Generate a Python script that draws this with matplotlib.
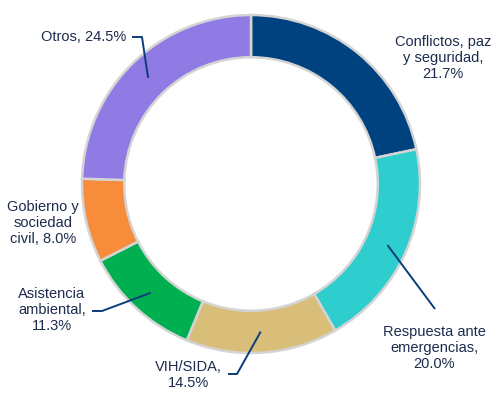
import numpy as np
import matplotlib.pyplot as plt

plt.rcParams['font.family'] = ['Liberation Sans', 'DejaVu Sans']

categories = ["Conflictos, paz\ny seguridad", "Respuesta ante\nemergencias", "VIH/SIDA",
              "Asistencia\nambiental", "Gobierno y\nsociedad\ncivil", "Otros"]
values = [21.7, 20.0, 14.5, 11.3, 8.0, 24.5]
separators = [",\n", ",\n", ",\n", ",\n", ", ", ", "]
colors = ["#00427f", "#2ecece", "#d8be78", "#00b050", "#f78c3b", "#8f7be3"]

# pixel geometry of the reference
W, H, DPI = 498, 397, 100
CX, CY, R = 251, 184, 169


def px(x, y):
    # pixel coords -> data coords (pie of radius 1 at origin)
    return (x - CX) / R, (CY - y) / R


# text centres (pixels) and leader elbows (pixels, None = no leader)
label_pos = [(443, 58), (434, 348), (188, 375), (52, 310), (43, 223), (84, 37)]
leader_start = [None, None, (228, 374), (92, 311), None, (132, 37)]
leader_elbow = [None, None, (237, 374), (102, 311), None, (142, 37)]

fig = plt.figure(figsize=(W / DPI, H / DPI), dpi=DPI)
ax = fig.add_axes([0, 0, 1, 1])

wedges, _ = ax.pie(values, colors=colors, startangle=90, counterclock=False, radius=1,
                   wedgeprops=dict(width=0.25, edgecolor="#d4d4d4", linewidth=1.8))

# pie() resets the limits, so set them afterwards
ax.set_xlim(-CX / R, (W - CX) / R)
ax.set_ylim((CY - H) / R, CY / R)
ax.set_aspect('equal')
ax.axis('off')

text_color = "#1c2b4e"
line_color = "#0a3d7a"
for i, w in enumerate(wedges):
    txt = f"{categories[i]}{separators[i]}{values[i]:.1f}%"
    tx, ty = px(*label_pos[i])
    ax.text(tx, ty, txt, ha='center', va='center', fontsize=10.5, color=text_color,
            linespacing=1.17, multialignment='center')
    if i == 1:
        # straight leader for Respuesta
        ang = np.deg2rad((w.theta1 + w.theta2) / 2)
        x0, y0 = 0.885 * np.cos(ang), 0.885 * np.sin(ang)
        x1, y1 = px(435, 309)
        ax.plot([x0, x1], [y0, y1], color=line_color, lw=1.4, solid_capstyle='butt')
    elif leader_start[i] is not None:
        ang = np.deg2rad((w.theta1 + w.theta2) / 2)
        x0, y0 = 0.875 * np.cos(ang), 0.875 * np.sin(ang)
        ex, ey = px(*leader_elbow[i])
        sx, sy = px(*leader_start[i])
        ax.plot([sx, ex, x0], [sy, ey, y0], color=line_color, lw=1.4, solid_capstyle='butt')

fig.savefig("out.png", dpi=DPI)
